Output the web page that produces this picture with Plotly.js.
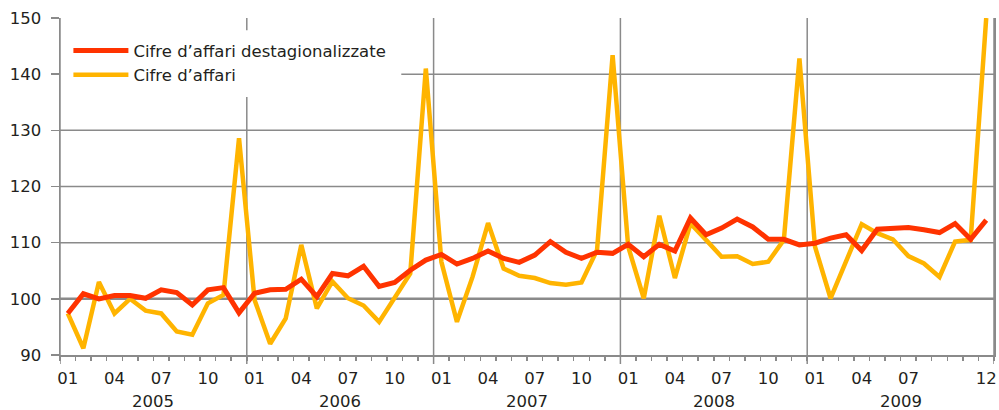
<!DOCTYPE html>
<html>
<head>
<meta charset="utf-8">
<script src="https://cdn.plot.ly/plotly-3.0.1.min.js"></script>
<style>
html,body{margin:0;padding:0;background:#fff;}
#chart{width:999px;height:410px;}
</style>
</head>
<body>
<div id="chart"></div>
<script>
// ---- data (monthly, Jan 2005 – Dec 2009) ----
const years = ['2005', '2006', '2007', '2008', '2009'];
const monthsPerYear = 12;

const cifreAffari = [
  97.4, 91.2, 103.0, 97.4, 100.0, 97.9, 97.4, 94.2, 93.6, 99.2, 100.7, 128.6,
  99.8, 92.0, 96.5, 109.6, 98.3, 103.1, 100.1, 98.8, 95.9, 100.1, 104.5, 141.0,
  106.6, 95.9, 103.9, 113.5, 105.4, 104.1, 103.7, 102.8, 102.5, 102.9, 108.7, 143.4,
  109.3, 100.1, 114.8, 103.7, 113.4, 110.5, 107.5, 107.6, 106.2, 106.6, 110.5, 142.8,
  109.3, 100.1, 106.7, 113.3, 111.7, 110.6, 107.6, 106.3, 103.9, 110.2, 110.5, 150.0
];

const cifreDestag = [
  97.4, 100.9, 100.0, 100.6, 100.6, 100.1, 101.6, 101.1, 98.9, 101.6, 102.0, 97.5,
  101.0, 101.6, 101.7, 103.5, 100.4, 104.5, 104.1, 105.8, 102.2, 102.9, 105.1, 106.9,
  107.9, 106.2, 107.2, 108.5, 107.2, 106.5, 107.8, 110.2, 108.3, 107.2, 108.3, 108.1,
  109.7, 107.5, 109.7, 108.5, 114.4, 111.4, 112.6, 114.2, 112.8, 110.6, 110.6, 109.6,
  109.9, 110.8, 111.4, 108.6, 112.4, 112.6, 112.7, 112.3, 111.8, 113.4, 110.6, 114.0
];

// tick labels: month index within the series -> label
const tickIndex = [0, 3, 6, 9, 12, 15, 18, 21, 24, 27, 30, 33, 36, 39, 42, 45, 48, 51, 54, 59];
const tickLabels = ['01','04','07','10','01','04','07','10','01','04','07','10','01','04','07','10','01','04','07','12'];
const yTicks = [90, 100, 110, 120, 130, 140, 150];
const yGrid = [110, 120, 130];

const seriesNames = ['Cifre d\u2019affari destagionalizzate', 'Cifre d\u2019affari'];

// ---- build ----
const x = cifreAffari.map((_, i) => i);
const grey = '#8a8a8a';
const txt = '#231f20';
const FONT = 'DejaVu Sans';

// legend backdrop extent (paper coords)
const LX1 = 0.3654, LY0 = 0.7656, LY1 = 0.964;

const traces = [
  {x: x, y: cifreAffari, type: 'scatter', mode: 'lines', name: seriesNames[1],
   line: {color: '#ffb400', width: 4.5}},
  {x: x, y: cifreDestag, type: 'scatter', mode: 'lines', name: seriesNames[0],
   line: {color: '#ff3300', width: 5}}
];

const shapes = [];
// horizontal gridlines
yGrid.forEach(v => shapes.push({type: 'line', xref: 'paper', yref: 'y', x0: 0, x1: 1, y0: v, y1: v,
  line: {color: grey, width: 1.5}, layer: 'below'}));
// 140 gridline interrupted by the legend
shapes.push({type: 'line', xref: 'paper', yref: 'y', x0: LX1, x1: 1, y0: 140, y1: 140,
  line: {color: grey, width: 1.5}, layer: 'below'});
shapes.push({type: 'line', xref: 'paper', yref: 'y', x0: 0, x1: 1, y0: 100, y1: 100,
  line: {color: grey, width: 2.5}, layer: 'below'});
// year boundaries (also long ticks)
for (let k = 0; k <= years.length; k++) {
  const b = k * monthsPerYear - 0.5;
  if (k === 1) {
    shapes.push({type: 'line', xref: 'x', yref: 'paper', x0: b, x1: b, y0: -0.027, y1: LY0,
      line: {color: grey, width: 1.5}, layer: 'below'});
    shapes.push({type: 'line', xref: 'x', yref: 'paper', x0: b, x1: b, y0: LY1, y1: 1,
      line: {color: grey, width: 1.5}, layer: 'below'});
  } else {
    shapes.push({type: 'line', xref: 'x', yref: 'paper', x0: b, x1: b, y0: -0.027, y1: 1,
      line: {color: grey, width: 1.5}, layer: 'below'});
  }
}

const annotations = years.map((yr, k) => ({
  text: yr, xref: 'x', yref: 'paper', x: k * monthsPerYear + 5.5, y: -0.137,
  xanchor: 'center', yanchor: 'middle', showarrow: false,
  font: {family: FONT, size: 16.5, color: txt}
}));

const layout = {
  width: 999, height: 410,
  margin: {l: 59.5, r: 5, t: 18, b: 55},
  paper_bgcolor: '#ffffff', plot_bgcolor: '#ffffff',
  showlegend: true,
  legend: {x: 0.009, y: 0.955, xanchor: 'left', yanchor: 'top', traceorder: 'reversed',
    bgcolor: 'rgba(0,0,0,0)', font: {family: FONT, size: 16.5, color: txt}, itemwidth: 55,
    tracegroupgap: 0},
  xaxis: {
    range: [-0.5, 59.5], tickmode: 'array', tickvals: tickIndex, ticktext: tickLabels,
    ticks: '', showgrid: false, zeroline: false, showline: true, linecolor: grey, linewidth: 1.5,
    tickfont: {family: FONT, size: 16.5, color: txt}, ticklabelstandoff: 8,
    minor: {tickmode: 'linear', tick0: -0.5, dtick: 1, ticks: 'outside', ticklen: 4,
      tickcolor: grey, tickwidth: 1.5, showgrid: false}
  },
  yaxis: {
    range: [90, 150], tickmode: 'array', tickvals: yTicks, ticks: 'outside', ticklen: 8,
    tickcolor: grey, tickwidth: 1.5, showgrid: false, zeroline: false,
    showline: true, linecolor: grey, linewidth: 1.5, mirror: true,
    tickfont: {family: FONT, size: 16.5, color: txt}, ticklabelstandoff: 6
  },
  shapes: shapes,
  annotations: annotations
};

Plotly.newPlot('chart', traces, layout, {displayModeBar: false, staticPlot: true});
</script>
</body>
</html>
